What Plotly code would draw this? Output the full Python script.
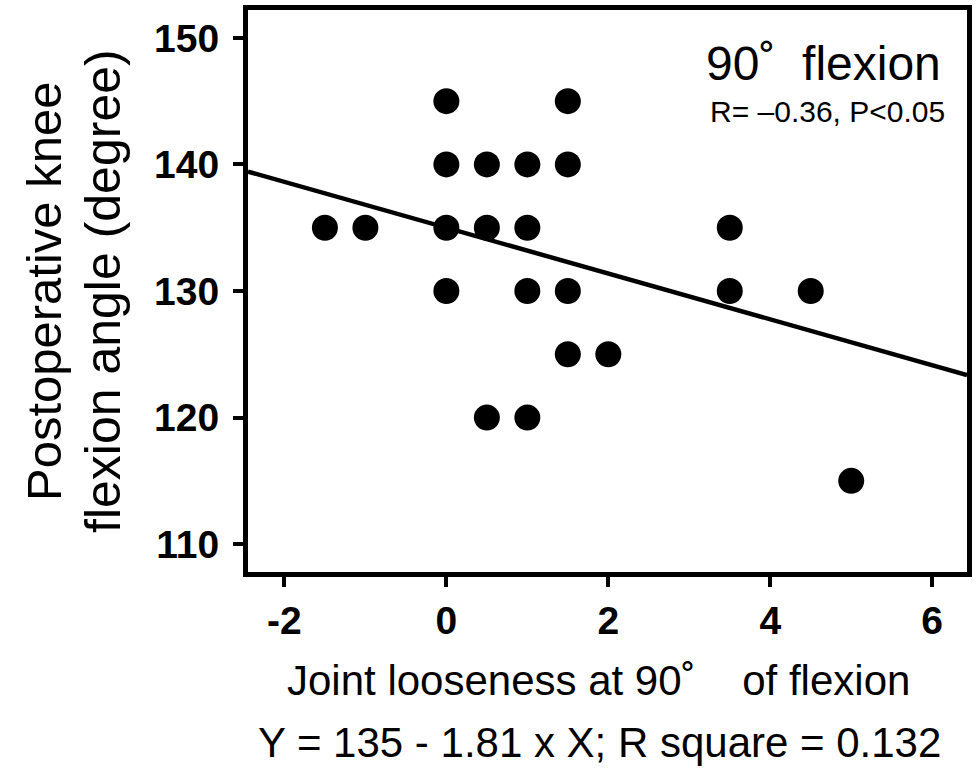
import plotly.graph_objects as go

# data: joint looseness at 90° (x) vs postoperative flexion angle (y)
looseness = [-1.5, -1, 0, 0, 0, 0, 0.5, 0.5, 0.5, 1, 1, 1, 1, 1.5, 1.5, 1.5, 1.5, 2, 3.5, 3.5, 4.5, 5]
flexion_angle = [135, 135, 145, 140, 135, 130, 140, 135, 120, 140, 135, 130, 120, 145, 140, 130, 125, 125, 135, 130, 130, 115]
intercept = 135
slope = -1.81
x_ticks = [-2, 0, 2, 4, 6]
y_ticks = [110, 120, 130, 140, 150]

x_range = [-2.45, 6.43]
y_range = [107.8, 152.2]

FONT = "Arial, Liberation Sans, sans-serif"

fig = go.Figure()
fig.add_trace(go.Scatter(
    x=x_range, y=[intercept + slope * v for v in x_range],
    mode="lines", line=dict(color="black", width=4.5), hoverinfo="skip", showlegend=False))
fig.add_trace(go.Scatter(
    x=looseness, y=flexion_angle, mode="markers",
    marker=dict(color="black", size=26, line=dict(width=0)), showlegend=False))

fig.update_layout(
    width=977, height=769,
    margin=dict(l=248, r=5, t=5, b=197),
    plot_bgcolor="white", paper_bgcolor="white",
    font=dict(family=FONT, color="black"),
    xaxis=dict(range=x_range, tickvals=x_ticks, ticktext=[str(v) for v in x_ticks],
               showgrid=False, zeroline=False, showline=True, linecolor="black", linewidth=5,
               mirror=True, ticks="outside", ticklen=10, tickwidth=4, tickcolor="black",
               tickfont=dict(family=FONT, size=39, color="black", weight="bold"),
               ticklabelstandoff=0),
    yaxis=dict(range=y_range, tickvals=y_ticks, ticktext=[str(v) for v in y_ticks],
               showgrid=False, zeroline=False, showline=True, linecolor="black", linewidth=5,
               mirror=True, ticks="outside", ticklen=10, tickwidth=4, tickcolor="black",
               tickfont=dict(family=FONT, size=39, color="black", weight="bold"),
               ticklabelstandoff=6),
)

ann = [
    dict(text="90˚\u00a0\u00a0flexion", x=1, y=1, xref="paper", yref="paper",
         xanchor="right", yanchor="middle", xshift=-24, yshift=-53,
         font=dict(size=48, family=FONT), showarrow=False),
    dict(text="R=\u00a0\u20130.36, P&lt;0.05", x=1, y=1, xref="paper", yref="paper",
         xanchor="right", yanchor="middle", xshift=-20, yshift=-101,
         font=dict(size=30, family=FONT), showarrow=False),
    dict(text="Joint looseness at 90˚\u00a0\u00a0\u00a0\u00a0of flexion", x=0.5, y=0, xref="paper", yref="paper",
         xanchor="center", yanchor="middle", xshift=-9, yshift=-108,
         font=dict(size=42, family=FONT), showarrow=False),
    dict(text="Y = 135 - 1.81 x X; R square = 0.132", x=0.5, y=0, xref="paper", yref="paper",
         xanchor="center", yanchor="middle", xshift=-8, yshift=-170,
         font=dict(size=42, family=FONT), showarrow=False),
    dict(text="Postoperative knee", x=0, y=0.5, xref="paper", yref="paper",
         xanchor="center", yanchor="middle", xshift=-204, textangle=-90,
         font=dict(size=49, family=FONT), showarrow=False),
    dict(text="flexion angle (degree)", x=0, y=0.5, xref="paper", yref="paper",
         xanchor="center", yanchor="middle", xshift=-145, textangle=-90,
         font=dict(size=50, family=FONT), showarrow=False),
]
fig.update_layout(annotations=ann)

fig.write_html("out.html", config={"displayModeBar": False},
               post_script="document.body.style.margin='0';")
